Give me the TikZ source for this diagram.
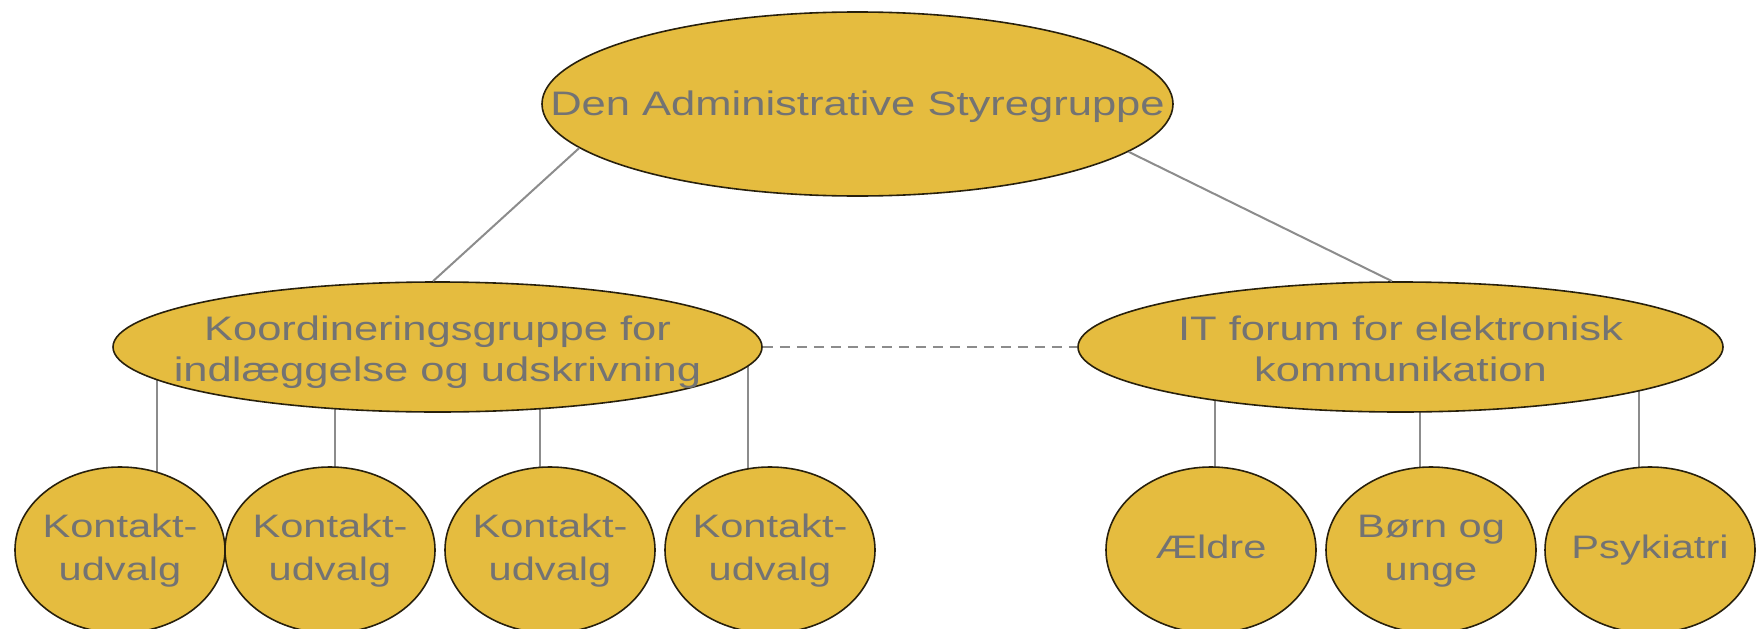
\documentclass[tikz,border=0pt]{standalone}
\usepackage{fontspec}
\setmainfont{Liberation Sans}
\usepackage{graphicx}
\usetikzlibrary{shapes.geometric,backgrounds}
\definecolor{gold}{RGB}{229,188,63}
\definecolor{txtgray}{RGB}{115,115,115}
\definecolor{edgecol}{RGB}{40,32,12}
\definecolor{conngray}{RGB}{140,140,140}
\newcommand{\widelbl}[2][0pt]{\raisebox{#1}[\height][\depth]{\makebox[0pt]{\scalebox{1.28}[1]{\begin{tabular}{@{}c@{}}#2\end{tabular}}}}}
\tikzset{
  bigoval/.style={ellipse, draw=edgecol, line width=1.6pt, fill=gold, inner sep=0pt,
    text=txtgray, font=\fontsize{34}{41}\selectfont},
  smalloval/.style={ellipse, draw=edgecol, line width=1.6pt, fill=gold, inner sep=0pt,
    minimum width=210pt, minimum height=166pt, text=txtgray, font=\fontsize{32.5}{43}\selectfont},
  conn/.style={draw=conngray, line width=2pt},
  dashconn/.style={conn, dash pattern=on 10pt off 7pt}
}
\begin{document}
\begin{tikzpicture}[x=1pt,y=-1pt]
\clip (0,0) rectangle (1756,629);
% top
\node[bigoval, minimum width=631pt, minimum height=184pt] (top) at (857.5,104) {\widelbl[-3pt]{Den Administrative Styregruppe}};
% middle
\node[bigoval, minimum width=649pt, minimum height=130pt] (kg) at (437.5,347) {\widelbl[-6pt]{Koordineringsgruppe for\\indlæggelse og udskrivning}};
\node[bigoval, minimum width=645pt, minimum height=130pt] (it) at (1400.5,347) {\widelbl[-6pt]{IT forum for elektronisk\\kommunikation}};
% bottom
\node[smalloval] (c1) at (120,550) {\widelbl{Kontakt-\\udvalg}};
\node[smalloval] (c2) at (330,550) {\widelbl{Kontakt-\\udvalg}};
\node[smalloval] (c3) at (550,550) {\widelbl{Kontakt-\\udvalg}};
\node[smalloval] (c4) at (770,550) {\widelbl{Kontakt-\\udvalg}};
\node[smalloval] (ae) at (1211,550) {\widelbl{Ældre}};
\node[smalloval] (bu) at (1431,550) {\widelbl{Børn og\\unge}};
\node[smalloval] (ps) at (1650,550) {\widelbl{Psykiatri}};
% connector feet
\coordinate (l1) at ([xshift=37pt]c1.center);
\coordinate (l2) at ([xshift=5pt]c2.center);
\coordinate (l3) at ([xshift=-10pt]c3.center);
\coordinate (l4) at ([xshift=-22pt]c4.center);
\coordinate (r1) at ([xshift=4pt]ae.center);
\coordinate (r2) at ([xshift=-11pt]bu.center);
\coordinate (r3) at ([xshift=-11pt]ps.center);
\begin{scope}[on background layer]
\draw[conn] (l1) -- (l1 |- kg.center);
\draw[conn] (l2) -- (l2 |- kg.center);
\draw[conn] (l3) -- (l3 |- kg.center);
\draw[conn] (l4) -- (l4 |- kg.center);
\draw[conn] (r1) -- (r1 |- it.center);
\draw[conn] (r2) -- (r2 |- it.center);
\draw[conn] (r3) -- (r3 |- it.center);
\end{scope}
\draw[conn] (top.189.2) -- ([xshift=-4.5pt]kg.north);
\draw[conn] (top.350.6) -- ([xshift=-8.5pt]it.north);
\draw[dashconn] (kg.east) -- (it.west);
\end{tikzpicture}
\end{document}
